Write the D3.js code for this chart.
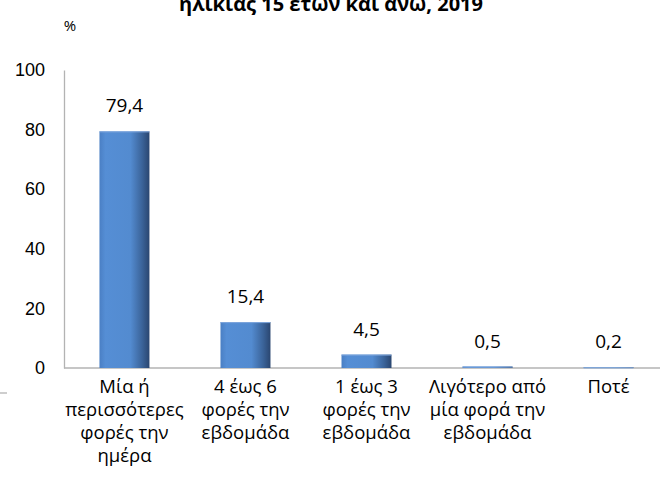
<!DOCTYPE html>
<html>
<head>
<meta charset="utf-8">
<script src="https://cdn.jsdelivr.net/npm/d3@7"></script>
<style>
  body { margin: 0; background: #fff; }
  svg { display: block; font-family: 'Open Sans', 'Noto Sans', sans-serif; }
</style>
</head>
<body>
<div id="chart"></div>
<script>
const categories = [
  ['Μία ή', 'περισσότερες', 'φορές την', 'ημέρα'],
  ['4 έως 6', 'φορές την', 'εβδομάδα'],
  ['1 έως 3', 'φορές την', 'εβδομάδα'],
  ['Λιγότερο από', 'μία φορά την', 'εβδομάδα'],
  ['Ποτέ']
];
const values = [79.4, 15.4, 4.5, 0.5, 0.2];
const yTicks = [0, 20, 40, 60, 80, 100];
const titleText = 'ηλικίας 15 ετών και άνω, 2019';

const W = 660, H = 482;
const margin = {top: 70, left: 64, bottom: 114};
const plotH = H - margin.top - margin.bottom;

const svg = d3.select('#chart').append('svg')
  .attr('width', W)
  .attr('height', H);

// bar shading: flat blue, darker toward the right edge
const defs = svg.append('defs');
const grad = defs.append('linearGradient')
  .attr('id', 'barGrad')
  .attr('x1', '0%').attr('x2', '100%').attr('y1', '0%').attr('y2', '0%');
grad.append('stop').attr('offset', '0%').attr('stop-color', '#4a7fc4');
grad.append('stop').attr('offset', '12%').attr('stop-color', '#558ed5');
grad.append('stop').attr('offset', '62%').attr('stop-color', '#538bd0');
grad.append('stop').attr('offset', '85%').attr('stop-color', '#3b649a');
grad.append('stop').attr('offset', '100%').attr('stop-color', '#2a4670');

const x = d3.scaleBand()
  .domain(d3.range(values.length))
  .range([margin.left, margin.left + 605])
  .paddingInner(0.587)
  .paddingOuter(0.293);

const y = d3.scaleLinear()
  .domain([0, 100])
  .range([margin.top + plotH, margin.top]);

// title (only its lower line falls inside the frame)
svg.append('text')
  .attr('x', 331)
  .attr('y', 11)
  .attr('text-anchor', 'middle')
  .style('font-weight', 'bold')
  .style('font-size', '20px')
  .text(titleText);

svg.append('text')
  .attr('x', 70)
  .attr('y', 31)
  .attr('text-anchor', 'middle')
  .style('font-size', '15px')
  .text('%');

// y axis
const yAxis = svg.append('g')
  .attr('transform', 'translate(' + margin.left + ',0)')
  .call(d3.axisLeft(y).tickValues(yTicks).tickSize(0).tickPadding(19));
yAxis.select('.domain').attr('stroke', '#b3b3b3').attr('stroke-width', 1.3);
yAxis.selectAll('text').style('font-size', '18px').attr('fill', '#000');

// x axis line
svg.append('line')
  .attr('x1', margin.left).attr('x2', W)
  .attr('y1', y(0)).attr('y2', y(0))
  .attr('stroke', '#b3b3b3').attr('stroke-width', 1.3);

svg.append('line')
  .attr('x1', 0).attr('x2', 7)
  .attr('y1', 393).attr('y2', 393)
  .attr('stroke', '#b3b3b3').attr('stroke-width', 1.3);

// bars
svg.selectAll('rect.bar')
  .data(values)
  .enter().append('rect')
  .attr('class', 'bar')
  .attr('x', (d, i) => x(i))
  .attr('width', x.bandwidth())
  .attr('y', d => y(d))
  .attr('height', d => y(0) - y(d))
  .attr('fill', 'url(#barGrad)');

svg.selectAll('line.barTop')
  .data(values)
  .enter().append('line')
  .attr('class', 'barTop')
  .attr('x1', (d, i) => x(i))
  .attr('x2', (d, i) => x(i) + x.bandwidth())
  .attr('y1', d => y(d) + 0.5)
  .attr('y2', d => y(d) + 0.5)
  .attr('stroke', '#7ea6dc')
  .attr('stroke-width', 1);

// value labels
svg.selectAll('text.val')
  .data(values)
  .enter().append('text')
  .attr('class', 'val')
  .attr('x', (d, i) => x(i) + x.bandwidth() / 2)
  .attr('y', d => y(d) - 19)
  .attr('text-anchor', 'middle')
  .style('font-size', '19px')
  .text(d => d3.format('.1f')(d).replace('.', ','));

// category labels
const cat = svg.selectAll('text.cat')
  .data(categories)
  .enter().append('text')
  .attr('class', 'cat')
  .attr('x', (d, i) => x(i) + x.bandwidth() / 2)
  .attr('y', 393)
  .attr('text-anchor', 'middle')
  .style('font-size', '18.5px');
cat.selectAll('tspan')
  .data(d => d)
  .enter().append('tspan')
  .attr('x', function() { return d3.select(this.parentNode).attr('x'); })
  .attr('dy', (d, i) => i === 0 ? 0 : 23)
  .text(d => d);
</script>
</body>
</html>
